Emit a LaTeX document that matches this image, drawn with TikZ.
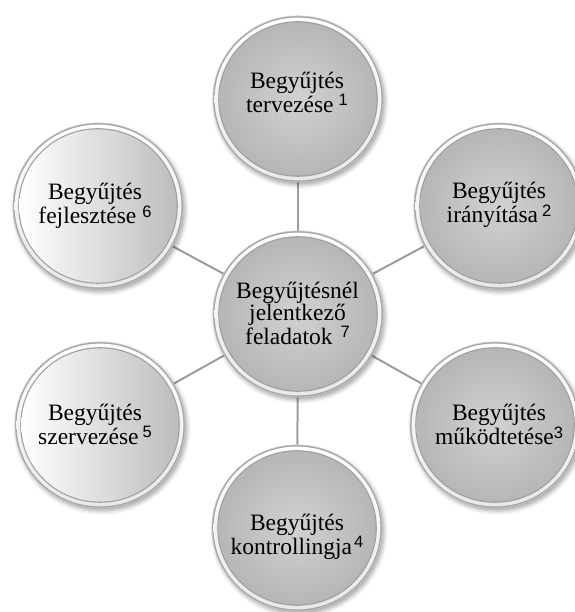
\documentclass[tikz,border=0pt]{standalone}
\usepackage{fontspec}
\setmainfont{Liberation Serif}
\newfontfamily\numfont{Liberation Sans}
\usetikzlibrary{shapes.geometric,shadows.blur,backgrounds}
\newcommand\nm[1]{\raisebox{0.28em}{\numfont\fontsize{16.5}{16.5}\selectfont #1}}
\tikzset{
  bubble/.style={ellipse, minimum width=170pt, minimum height=166pt, inner sep=0pt,
    fill=gray!72, draw=gray!45, line width=0.6pt,
    blur shadow={shadow xshift=2pt, shadow yshift=-3pt, shadow blur radius=4pt, shadow opacity=35},
    path picture={
      \shade[top color=white, bottom color=white!82!gray]
        (path picture bounding box.center) ellipse [x radius=83.4, y radius=81.4];
      \fill[gray!75]
        (path picture bounding box.center) ellipse [x radius=79.8, y radius=77.8];
      \shade[#1]
        (path picture bounding box.center) ellipse [x radius=78.6, y radius=76.6];
    }},
  darkfill/.style={inner color=gray!36, outer color=gray!57},
  lightfill/.style={left color=white, middle color=gray!14, right color=gray!52},
  txt/.style={align=center, inner sep=0pt, text=black, anchor=north,
    font=\fontsize{23.5}{22}\selectfont},
  conn/.style={draw=gray!78, line width=2pt},
}
\begin{document}
\begin{tikzpicture}[x=1pt,y=1pt]
\useasboundingbox (0,0) rectangle (574,612);
% bubbles
\node[bubble=darkfill]  (b1) at (298,513) {};
\node[bubble=lightfill] (b6) at (98,406) {};
\node[bubble=darkfill]  (b2) at (499,406) {};
\node[bubble=darkfill]  (b7) at (298,298) {};
\node[bubble=lightfill] (b5) at (100,187) {};
\node[bubble=darkfill]  (b3) at (495,187) {};
\node[bubble=darkfill]  (b4) at (297,84) {};
% connectors
\begin{scope}[on background layer]
\draw[conn] (b7) -- (b1);
\draw[conn] (b7) -- (b2);
\draw[conn] (b7) -- (b3);
\draw[conn] (b7) -- (b4);
\draw[conn] (b7) -- (b5);
\draw[conn] (b7) -- (b6);
\end{scope}
% texts
\node[txt] (t1) at (297,540) {Begyűjtés\\tervezése\kern5pt\nm{1}};
\node[txt] (t2) at (499,430) {Begyűjtés\\irányítása\kern4pt\nm{2}};
\node[txt] (t3) at (499,208) {Begyűjtés\\működtetése\nm{3}};
\node[txt] (t4) at (297,98) {Begyűjtés\\kontrollingja\kern2pt\nm{4}};
\node[txt] (t5) at (95,208) {Begyűjtés\\szervezése\kern4pt\nm{5}};
\node[txt] (t6) at (95,429) {Begyűjtés\\fejlesztése\kern6pt\nm{6}};
\node[txt] (t7) at (297.5,330) {Begyűjtésnél\\jelentkező\\feladatok\kern8pt\nm{7}};
\end{tikzpicture}
\end{document}
